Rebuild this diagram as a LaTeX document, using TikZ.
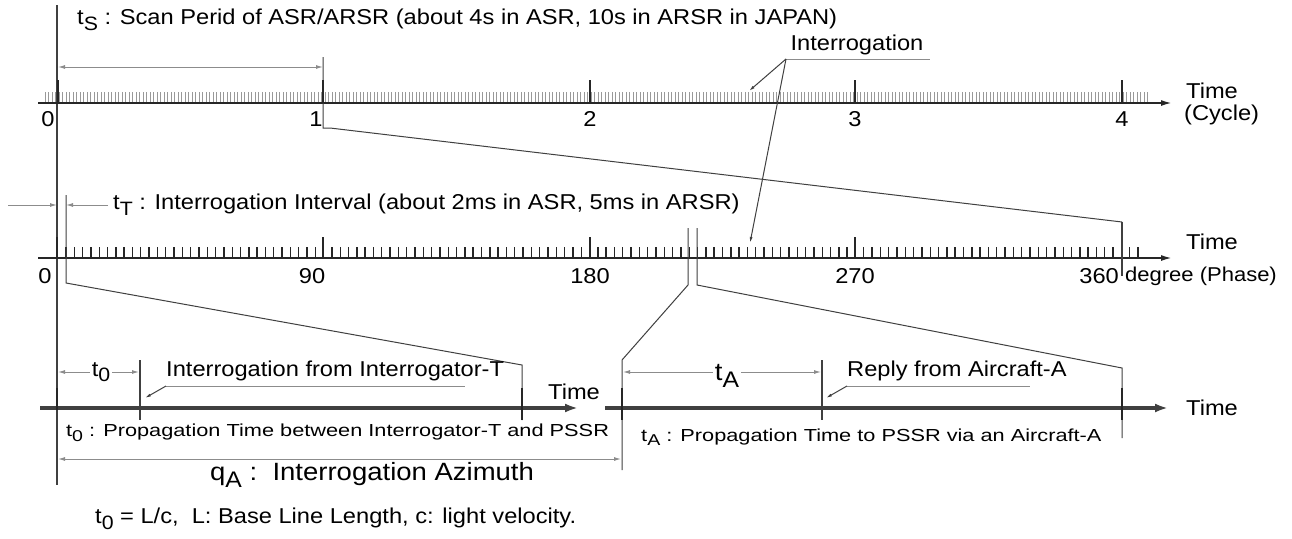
\documentclass[tikz,border=0pt]{standalone}
\usepackage{fontspec}
\setmainfont{Liberation Sans}[FakeStretch=1.1]
\newfontfamily\capfont{Liberation Sans}[FakeStretch=1.25]
\usetikzlibrary{arrows.meta}
\newcommand\lowsub[1]{\raisebox{-0.5ex}{\scalebox{0.9}{#1}}}
\begin{document}
\begin{tikzpicture}[x=1pt,y=-1pt,
  txt/.style={inner sep=0pt,font=\fontsize{21.5}{24}\selectfont},
  captxt/.style={inner sep=0pt,font=\capfont\fontsize{17.4}{20}\selectfont},
  bigtxt/.style={inner sep=0pt,font=\fontsize{25}{28}\selectfont},
  axisline/.style={line width=1.8pt,black!85,-{Latex[length=11pt,width=6pt]}},
  heavyaxis/.style={line width=3.6pt,black!75,-{Latex[length=13pt,width=9pt]}},
  tickline/.style={line width=1.6pt,black!85},
  guide/.style={line width=1pt,black!75},
  dimline/.style={line width=1pt,black!45,{Latex[length=7pt,width=4pt]}-{Latex[length=7pt,width=4pt]}},
  dimone/.style={line width=1pt,black!45,-{Latex[length=7pt,width=4pt]}},
  leader/.style={line width=1pt,black!75,-{Latex[length=6pt,width=3pt]}},
  uline/.style={line width=1pt,black!45}]
\useasboundingbox (0,0) rectangle (1292,538);
\fill[white] (0,0) rectangle (1292,538);

% ---------- long vertical reference line
\coordinate (vtop) at (57,5);
\coordinate (vbot) at (57,485);
\draw[guide,line width=1.3pt] (vtop) -- (vbot);

% ---------- title
\node[txt,anchor=west] (title) at (77,20) {t\lowsub{S} : Scan Perid of ASR/ARSR (about 4s in ASR, 10s in ARSR in JAPAN)};

% ---------- row 1 (cycle)
\foreach \i in {0,...,315} \draw[black!40,line width=0.7pt] ({45+3.5*\i},92) -- ({45+3.5*\i},103);
\coordinate (a1s) at (38,103); \coordinate (a1e) at (1172,103);
\draw[axisline] (a1s) -- (a1e);
\foreach \x in {58,590,855,1122} \draw[tickline] (\x,80) -- (\x,103);
\coordinate (c1top) at (323,57); \coordinate (c1bot) at (323,128); \coordinate (c1kn) at (330,128);
\coordinate (p360top) at (1122,222); \coordinate (p360bot) at (1122,276);
\draw[guide] (c1top) -- (c1bot) -- (c1kn) -- (p360top);
\draw[tickline] (323,80) -- (323,103);
\coordinate (ts0) at (58,67); \coordinate (ts1) at (323,67);
\draw[dimline] (ts0) -- (ts1);
\node[txt] (l0) at (48,119) {0};
\node[txt] (l1) at (316,119) {1};
\node[txt] (l2) at (590,119) {2};
\node[txt] (l3) at (855,119) {3};
\node[txt] (l4) at (1122,119) {4};
\node[txt,anchor=west] (time1) at (1186,91) {Time};
\node[txt,anchor=west] (cyc) at (1184,115) {(Cycle)};

% ---------- Interrogation label
\node[txt] (intl) at (857,45) {Interrogation};
\coordinate (ulA) at (786,59); \coordinate (ulB) at (930,59);
\draw[uline] (ulA) -- (ulB);
\coordinate (i1) at (749,91); \coordinate (i2) at (750,243);
\draw[leader] (ulA) -- (i1);
\draw[leader] (ulA) -- (i2);

% ---------- row 2 (phase)
\node[txt,anchor=west] (ttl) at (113,205) {t\lowsub{T} : Interrogation Interval (about 2ms in ASR, 5ms in ARSR)};
\coordinate (tTa) at (8,205); \coordinate (tTb) at (57,205);
\coordinate (tTc) at (108,205); \coordinate (tTd) at (66,205);
\draw[dimone] (tTa) -- (tTb);
\draw[dimone] (tTc) -- (tTd);
\coordinate (a2s) at (38,258); \coordinate (a2e) at (1172,258);
\draw[axisline] (a2s) -- (a2e);
\foreach \i in {0,...,129} \draw[line width=1.4pt,black!85] ({66+8.31*\i},247) -- ({66+8.31*\i},258);
\foreach \x in {57,323,590,855} \draw[tickline] (\x,237) -- (\x,258);
\draw[guide,line width=1.3pt] (p360top) -- (p360bot);
% first interrogation tick, expanded into row 3 left
\coordinate (f0top) at (66,195); \coordinate (f0bot) at (66,283);
\coordinate (eTtop) at (522,365); \coordinate (eTbot) at (522,420);
\draw[guide] (f0top) -- (f0bot) -- (eTtop) -- (eTbot);
% double lines expanded into row 3 right
\coordinate (dLt) at (688,228); \coordinate (dLb) at (688,285);
\coordinate (dRt) at (697,228); \coordinate (dRb) at (697,285);
\coordinate (sAtop) at (622,360); \coordinate (sAbot) at (622,470);
\coordinate (eAtop) at (1122,368); \coordinate (eAbot) at (1122,438);
\draw[guide] (dLt) -- (dLb) -- (sAtop) -- (sAbot);
\draw[guide] (dRt) -- (dRb) -- (eAtop) -- (eAbot);
\node[txt] (d0) at (45,276) {0};
\node[txt] (d90) at (312,276) {90};
\node[txt] (d180) at (590,276) {180};
\node[txt] (d270) at (855,276) {270};
\node[txt,anchor=east] (d360) at (1119,276) {360};
\node[txt,anchor=west,font=\fontsize{20}{22}\selectfont] (deg) at (1125,276) {degree (Phase)};
\node[txt,anchor=west] (time2) at (1186,242) {Time};

% ---------- row 3 left
\coordinate (a3s) at (40,408); \coordinate (a3e) at (578,408);
\draw[heavyaxis] (a3s) -- (a3e);
\draw[tickline] (57,388) -- (57,410);
\coordinate (t0top) at (140,360); \coordinate (t0bot) at (140,420);
\draw[guide,line width=1.4pt] (t0top) -- (t0bot);
\draw[tickline] (522,388) -- (522,420);
\node[txt,anchor=west] (time3) at (548,392) {Time};
\coordinate (t0a) at (58,372); \coordinate (t0b) at (139,372);
\draw[dimline] (t0a) -- (t0b);
\node[txt,fill=white,inner xsep=2pt] (t0l) at (101,372) {t\lowsub{0}};
\node[txt,anchor=west] (ift) at (166,371) {Interrogation from Interrogator-T};
\coordinate (u3a) at (166,386); \coordinate (u3b) at (465,386);
\draw[uline] (u3a) -- (u3b);
\coordinate (u3p) at (145,398);
\draw[leader] (u3a) -- (u3p);
\node[captxt,anchor=west] (cap0) at (66,433) {t\lowsub{0} : Propagation Time between Interrogator-T and PSSR};

% ---------- row 3 right
\coordinate (a4s) at (605,408); \coordinate (a4e) at (1168,408);
\draw[heavyaxis] (a4s) -- (a4e);
\draw[tickline] (622,388) -- (622,420);
\draw[tickline] (1122,388) -- (1122,420);
\coordinate (rAtop) at (822,360); \coordinate (rAbot) at (822,420);
\draw[guide,line width=1.4pt] (rAtop) -- (rAbot);
\coordinate (tAa) at (623,372); \coordinate (tAb) at (821,372);
\draw[dimline] (tAa) -- (tAb);
\node[bigtxt,fill=white,inner xsep=2pt] (tAl) at (727,376) {t\lowsub{A}};
\node[txt,anchor=west] (rfa) at (847,371) {Reply from Aircraft-A};
\coordinate (u4a) at (847,386); \coordinate (u4b) at (1030,386);
\draw[uline] (u4a) -- (u4b);
\coordinate (u4p) at (826,398);
\draw[leader] (u4a) -- (u4p);
\node[txt,anchor=west] (time4) at (1186,408) {Time};
\node[captxt,anchor=west] (capA) at (641,437) {t\lowsub{A} : Propagation Time to PSSR via an Aircraft-A};

% ---------- azimuth
\coordinate (qa) at (58,459); \coordinate (qb) at (621,459);
\draw[dimline] (qa) -- (qb);
\node[bigtxt,anchor=west] (qal) at (210,475) {q\lowsub{A} :\ \ Interrogation Azimuth};

% ---------- footnote
\node[txt,anchor=west] (foot) at (95,519) {t\lowsub{0} = L/c,\ \ L: Base Line Length, c: light velocity.};
\end{tikzpicture}
\end{document}
